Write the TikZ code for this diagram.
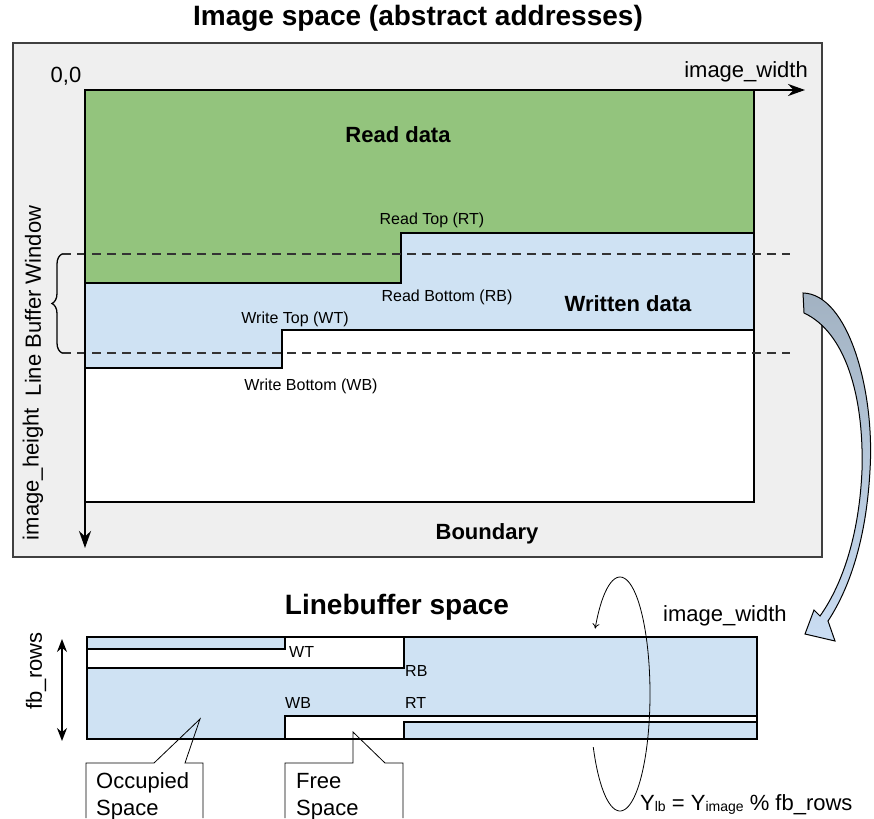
\documentclass[tikz,border=0pt]{standalone}
\usepackage{fontspec}
\setmainfont{Liberation Sans}
\usetikzlibrary{arrows.meta,decorations.pathreplacing}
\definecolor{readgreen}{HTML}{93C47D}
\definecolor{writeblue}{HTML}{CFE2F3}
\definecolor{boundgray}{HTML}{EFEFEF}
\definecolor{flowtop}{HTML}{A2B2C2}
\definecolor{flowbot}{HTML}{CADDF3}
\tikzstyle{stepline} = [draw,line width=1.6pt]
\tikzstyle{windowline} = [draw=black!80,line width=1.6pt,dash pattern=on 9pt off 6pt]
\tikzstyle{axisarrow} = [draw,line width=2.6pt,-{Stealth[length=17pt,width=12pt]}]
\tikzstyle{headtext} = [font=\fontsize{28}{32}\selectfont\bfseries,inner sep=0pt]
\tikzstyle{regiontext} = [font=\fontsize{22}{26}\selectfont\bfseries,inner sep=0pt]
\tikzstyle{marktext} = [font=\fontsize{16}{19}\selectfont,inner sep=0pt]
\tikzstyle{labeltext} = [font=\fontsize{22}{27}\selectfont,inner sep=0pt]
\tikzstyle{callout} = [draw,line width=0.8pt]

\begin{document}
\begin{tikzpicture}[x=1pt,y=-1pt]
    \useasboundingbox (0,0) rectangle (874,818);

    % image space
    \node[headtext,anchor=base] (imgtitle) at (418,26) {Image space (abstract addresses)};
    \draw[fill=boundgray,draw=black!75,line width=1.6pt] (13,43) rectangle (822,557);
    \fill[white] (85,90) rectangle (754,502);
    \fill[readgreen] (85,90) -- (754,90) -- (754,233) -- (401,233) -- (401,283) -- (85,283) -- cycle;
    \fill[writeblue] (85,283) -- (401,283) -- (401,233) -- (754,233) -- (754,330) -- (282,330) -- (282,368) -- (85,368) -- cycle;
    \draw[stepline] (85,283) -- (401,283) -- (401,233) -- (754,233);
    \draw[stepline] (85,368) -- (282,368) -- (282,330) -- (754,330);
    \draw[stepline] (85,90) rectangle (754,502);

    % line buffer window
    \draw[windowline] (62,254) -- (790,254);
    \draw[windowline] (62,353) -- (790,353);
    \draw[decorate,decoration={brace,amplitude=10pt},line width=1.3pt] (62,353) -- (62,254);

    \coordinate (origin) at (85,90);
    \coordinate (xend) at (805,90);
    \coordinate (yend) at (85,548);
    \draw[axisarrow] (origin) -- (xend);
    \draw[axisarrow] (origin) -- (yend);

    \node[labeltext,anchor=base] (zero) at (66,83) {0,0};
    \node[labeltext,anchor=base east] (imgwidth) at (808,78) {image\_width};
    \node[labeltext,rotate=90] (lbwindow) at (33,301) {Line Buffer Window};
    \node[labeltext,rotate=90] (imgheight) at (33,474) {image\_height};

    \foreach \pos/\name/\label in {{(398,143)/readdata/Read data}, {(628,311)/writtendata/Written data}, {(487,539)/boundary/Boundary}}
        \node[regiontext,anchor=base] (\name) at \pos {\label};

    \foreach \pos/\name/\label in {{(432,224)/rtlabel/Read Top (RT)}, {(447,301)/rblabel/Read Bottom (RB)}, {(295,323)/wtlabel/Write Top (WT)}, {(311,390)/wblabel/Write Bottom (WB)}}
        \node[marktext,anchor=base] (\name) at \pos {\label};

    % mapping arrow
    \shade[top color=flowtop,bottom color=flowbot,draw=black,line width=1pt]
        (803,293) .. controls (848,294) and (875,390) .. (870,470)
        .. controls (866,545) and (847,592) .. (828,621) -- (835,641) -- (805,634) -- (814,610) -- (820,616)
        .. controls (840,588) and (859,540) .. (862,470)
        .. controls (864,395) and (845,332) .. (804,313) -- cycle;

    % linebuffer space
    \node[headtext,anchor=base] (lbtitle) at (397,614) {Linebuffer space};
    \fill[writeblue] (87,637) rectangle (757,739);
    \fill[white] (87,649) -- (285,649) -- (285,637) -- (404,637) -- (404,668) -- (87,668) -- cycle;
    \fill[white] (285,739) -- (285,716) -- (757,716) -- (757,722) -- (404,722) -- (404,739) -- cycle;
    \draw[stepline] (87,649) -- (285,649) -- (285,637);
    \draw[stepline] (87,668) -- (404,668) -- (404,637);
    \draw[stepline] (285,739) -- (285,716) -- (757,716);
    \draw[stepline] (404,739) -- (404,722) -- (757,722);
    \draw[stepline] (87,637) rectangle (757,739);

    \foreach \pos/\name/\label in {{(289,657)/wt/WT}, {(405,676)/rb/RB}, {(285,708)/wb/WB}, {(405,708)/rt/RT}}
        \node[marktext,anchor=base west] (\name) at \pos {\label};

    \coordinate (rowtop) at (62,639);
    \coordinate (rowbot) at (62,741);
    \draw[line width=1.6pt,{Stealth[length=13pt,width=10pt]}-{Stealth[length=13pt,width=10pt]}] (rowtop) -- (rowbot);
    \node[labeltext,rotate=90] (fbrows) at (36,671) {fb\_rows};

    % wrap around
    \draw[line width=0.8pt,-{To[length=5pt,width=7pt]}] plot[domain=153:-146,samples=80,smooth] ({620+30*cos(\x)},{694+117*sin(\x)});
    \node[labeltext,anchor=base west] (lbwidth) at (663,621) {image\_width};
    \node[labeltext,anchor=base west] (formula) at (640,810) {Y\raisebox{-1pt}{\fontsize{14}{14}\selectfont lb} = Y\raisebox{-1pt}{\fontsize{14}{14}\selectfont image} \% fb\_rows};

    % callouts
    \draw[callout] (86,818) -- (86,763) -- (154,763) -- (200,719) -- (185,763) -- (203,763) -- (203,818);
    \draw[callout] (285,818) -- (285,763) -- (353,763) -- (353,732) -- (385,763) -- (403,763) -- (403,818);
    \foreach \pos/\name/\label in {{(96,788)/occupied/Occupied}, {(96,815)/occspace/Space}, {(296,788)/free/Free}, {(296,815)/freespace/Space}}
        \node[labeltext,anchor=base west] (\name) at \pos {\label};
\end{tikzpicture}
\end{document}
